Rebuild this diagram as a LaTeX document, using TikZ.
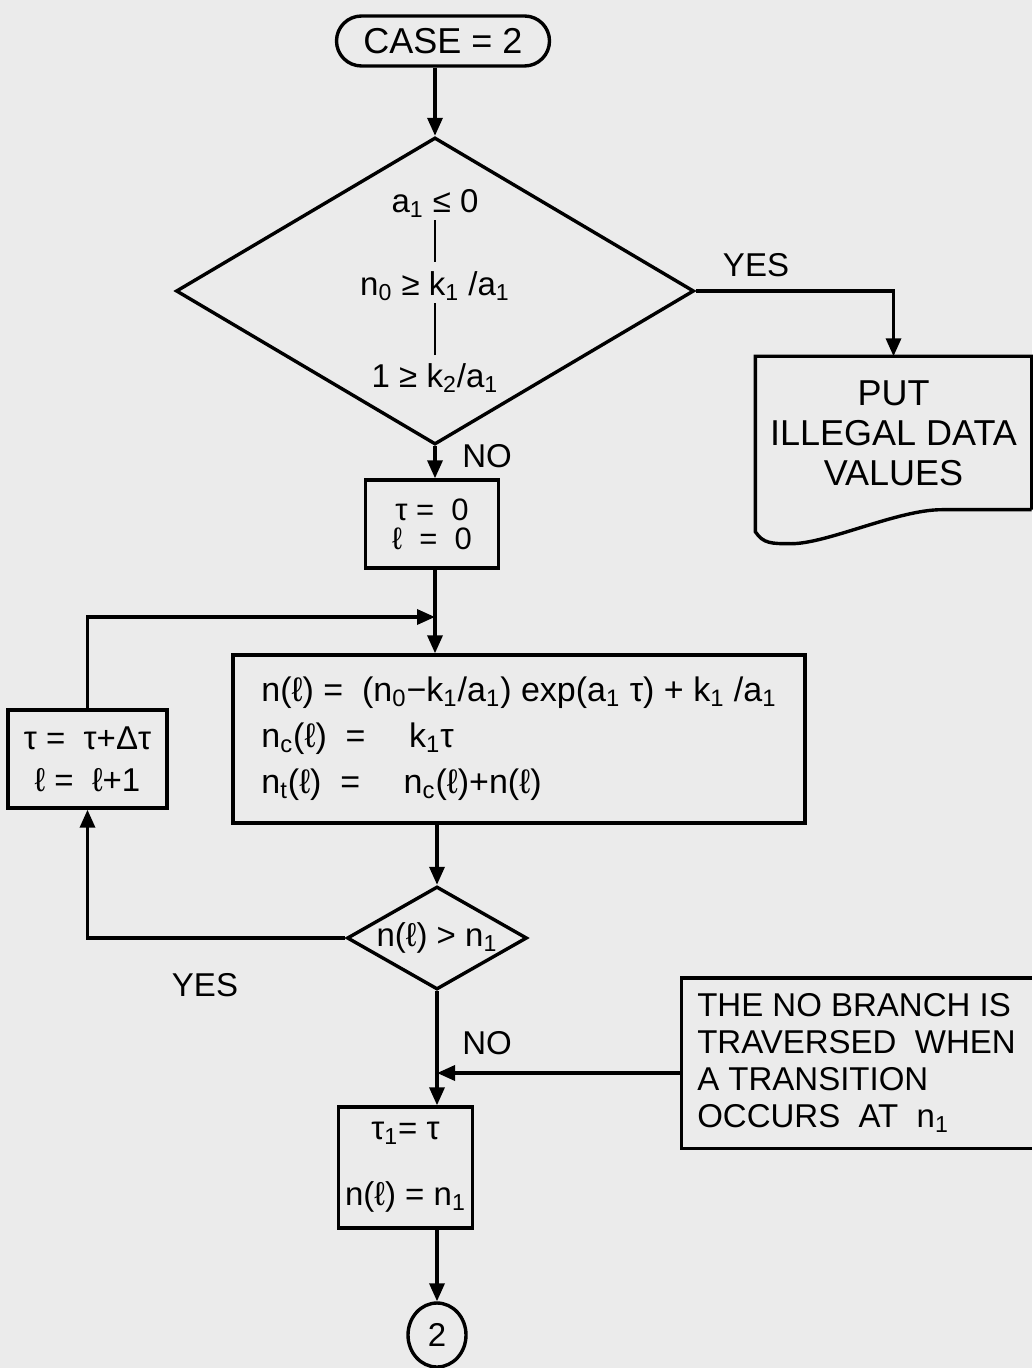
\documentclass[tikz,border=0pt]{standalone}
\usepackage{fontspec}
\setmainfont{Liberation Sans}
\usetikzlibrary{arrows.meta, positioning, shapes.geometric, calc}
\newcommand{\lsub}[1]{\textsubscript{#1}}

\begin{document}
\begin{tikzpicture}[x=0.5pt, y=-0.5pt,
    line width=1.7pt,
    every node/.style={font=\fontsize{16.5}{19}\selectfont},
    term/.style={rectangle, draw, rounded corners=12.5pt, minimum width=106.5pt,
                 minimum height=25pt},
    test/.style={diamond, draw, inner sep=0pt, align=center},
    proc/.style={rectangle, draw, align=center},
    lbl/.style={inner sep=1pt},
    arrow/.style={-{Triangle[length=9pt, width=7.5pt]}}
  ]
    \path[use as bounding box, fill=black!8] (0,0) rectangle (1032,1368);

    % Main column
    \node[term, font=\fontsize{18}{20}\selectfont] (start) at (443,41) {CASE = 2};
    \node[test, minimum width=259pt, minimum height=153.5pt, shape aspect=1.69] (test1) at (435,291)
      {a\lsub{1} ≤ 0\\\rule[-2pt]{1pt}{21pt}\\n\lsub{0} ≥ k\lsub{1} /a\lsub{1}\\\rule[-3pt]{1pt}{26pt}\\1 ≥ k\lsub{2}/a\lsub{1}};
    \node[proc, minimum width=66.5pt, minimum height=44pt,
          font=\fontsize{15.5}{14.5}\selectfont] (init) at (432,524) {τ = \ 0\\ℓ \ = \ 0};
    \node[proc, minimum width=286pt, minimum height=84pt, align=left,
          font=\fontsize{17}{20}\selectfont] (calc) at (519,739)
      {n(ℓ) = \ (n\lsub{0}−k\lsub{1}/a\lsub{1}) exp(a\lsub{1} τ) + k\lsub{1} /a\lsub{1}\\[3pt]
       n\lsub{c}(ℓ) \ = \quad k\lsub{1}τ\\[3pt]
       n\lsub{t}(ℓ) \ = \quad n\lsub{c}(ℓ)+n(ℓ)};
    \node[test, minimum width=90pt, minimum height=51.5pt, shape aspect=1.75] (test2) at (437,938)
      {n(ℓ) > n\lsub{1}};
    \node[proc, minimum width=57.5pt, minimum height=60.5pt] (final) at (405.5,1167.5)
      {τ\lsub{1}= τ\\[14pt]n(ℓ) = n\lsub{1}};
    \node[ellipse, draw, minimum width=29pt, minimum height=32pt, inner sep=0pt] (conn) at (437,1335) {2};

    % Side nodes
    \node[proc, minimum width=79.5pt, minimum height=49pt] (stepbox) at (87.5,759)
      {τ = \ τ+Δτ\\[2pt]ℓ = \ ℓ+1};
    \node[minimum width=136.5pt, minimum height=75pt, align=center,
          font=\fontsize{18}{20}\selectfont] (put) at (893.5,433) {PUT\\ILLEGAL DATA\\VALUES};
    \node[minimum width=173.5pt, minimum height=83.5pt, align=left,
          font=\fontsize{16.5}{18.5}\selectfont] (note) at (856.5,1063)
      {THE NO BRANCH IS\\TRAVERSED\ \ WHEN\\A TRANSITION\\OCCURS\ \ AT\ \ n\lsub{1}};

    % Labels
    \node[lbl] (yes1) at (756,265) {YES};
    \node[lbl] (no1) at (487,456) {NO};
    \node[lbl] (yes2) at (205,985) {YES};
    \node[lbl] (no2) at (487,1043) {NO};

    % Outlines
    \draw (put.south east) -- (put.north east) -- (put.north west) -- ([yshift=-11pt]put.south west)
      .. controls +(4pt,-6pt) and +(-10pt,0pt) .. ([xshift=18pt,yshift=-17pt]put.south west)
      .. controls +(18pt,0pt) and +(-22pt,0pt) .. ([xshift=-45pt]put.south east) -- (put.south east);
    \draw (note.north east) -- (note.north west) -- (note.south west) -- (note.south east);

    % Arrows
    \coordinate (join) at (435,617);
    \draw[arrow] (start.south -| test1.north) -- (test1.north);
    \draw[arrow] (test1.east) -| (put.north);
    \draw[arrow] (test1.south) -- (test1.south |- init.north);
    \draw (init.south -| join) -- (join);
    \draw[arrow] (join) -- (join |- calc.north);
    \draw[arrow] (stepbox.north) |- (join);
    \draw[arrow] (calc.south -| test2.north) -- (test2.north);
    \draw[arrow] (test2.west) -| (stepbox.south);
    \draw[arrow] ([yshift=-5pt]note.west) -- ([yshift=-5pt]note.west -| test2.south);
    \draw[arrow] (test2.south) -- (test2.south |- final.north);
    \draw[arrow] (final.south -| conn.north) -- (conn.north);
  \end{tikzpicture}
\end{document}
